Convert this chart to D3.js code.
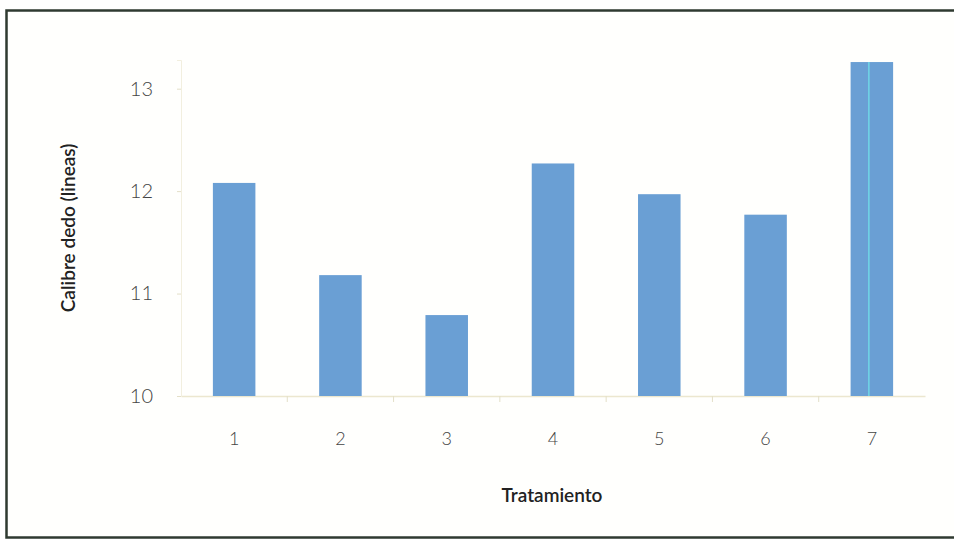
<!DOCTYPE html>
<html><head><meta charset="utf-8">
<script src="https://cdn.jsdelivr.net/npm/d3@7"></script>
<style>body{margin:0;background:#fff}svg{display:block}</style>
</head><body>
<script>
const categories = ["1","2","3","4","5","6","7"];
const values = [12.08, 11.18, 10.79, 12.27, 11.97, 11.77, 13.26];
const yTicks = [10, 11, 12, 13];
const yLabel = "Calibre dedo (lineas)";
const xLabel = "Tratamiento";

const W = 954, H = 540;
const svg = d3.select("body").append("svg").attr("width", W).attr("height", H);

// frame
svg.append("rect").attr("x", 6.5).attr("y", 10.5).attr("width", 960).attr("height", 527)
  .attr("fill", "#fffffd").attr("stroke", "#2f3a30").attr("stroke-width", 2.5);

const x = d3.scaleBand().domain(categories).range([181, 925]).paddingInner(0.6).paddingOuter(0.3);
const y = d3.scaleLinear().domain([10, 13.28]).range([396, 60]);

const tickFont = "Lato, 'Open Sans', sans-serif";

// axes
const gx = svg.append("g").attr("transform", "translate(0,396)")
  .call(d3.axisBottom(x).tickSize(0).tickPadding(36));
gx.select(".domain").attr("stroke", "#ece7cf").attr("stroke-width", 1.5);
gx.selectAll("text").attr("font-family", tickFont).attr("font-weight", 300).attr("font-size", 18).attr("fill", "#444");
// category boundary ticks
const step = x.step();
svg.append("g").selectAll("line").data(categories.slice(1)).join("line")
  .attr("x1", d => x(d) - (step - x.bandwidth())/2).attr("x2", d => x(d) - (step - x.bandwidth())/2)
  .attr("y1", 396).attr("y2", 402).attr("stroke", "#e3dfc8");

const gy = svg.append("g").attr("transform", "translate(181,0)")
  .call(d3.axisLeft(y).tickValues(yTicks).tickFormat(d3.format("d")).tickSize(4).tickPadding(24));
gy.select(".domain").attr("stroke", "#f2efdf").attr("stroke-width", 1);
gy.selectAll(".tick line").attr("stroke", "#e3dfc8");
gy.selectAll("text").attr("font-family", tickFont).attr("font-weight", 300).attr("font-size", 20).attr("fill", "#444");

// bars
svg.append("g").selectAll("rect").data(values).join("rect")
  .attr("x", (d, i) => x(categories[i]))
  .attr("y", d => y(d))
  .attr("width", x.bandwidth())
  .attr("height", d => y(10) - y(d))
  .attr("fill", "#6a9fd4");

// scan streak on last bar
svg.append("line")
  .attr("x1", x(categories[6]) + x.bandwidth()/2 - 3).attr("x2", x(categories[6]) + x.bandwidth()/2 - 3)
  .attr("y1", y(values[6])).attr("y2", y(10))
  .attr("stroke", "#6fd6e6").attr("stroke-width", 1.5);

// axis titles
svg.append("text").attr("transform", "translate(75,228) rotate(-90)")
  .attr("text-anchor", "middle").attr("font-family", tickFont)
  .attr("font-size", 19).attr("font-weight", 600).attr("fill", "#222").text(yLabel);
svg.append("text").attr("x", 552).attr("y", 502)
  .attr("text-anchor", "middle").attr("font-family", tickFont)
  .attr("font-size", 19).attr("font-weight", 600).attr("fill", "#222").text(xLabel);
</script>
</body></html>
